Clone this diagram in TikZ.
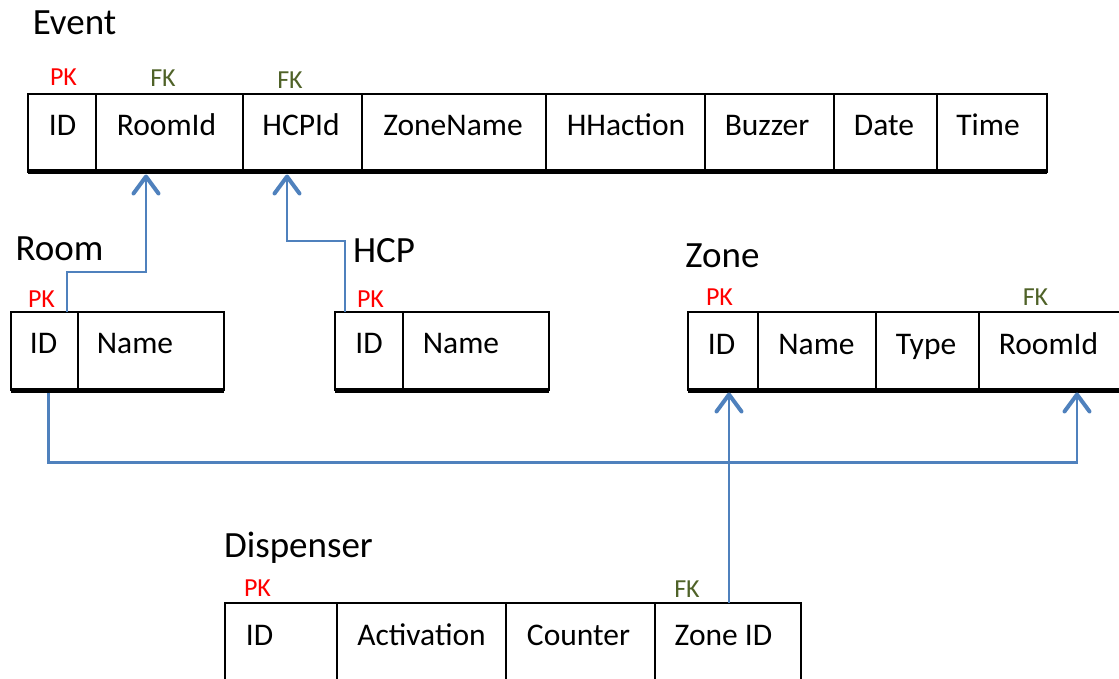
\documentclass[tikz,border=0pt]{standalone}
\usepackage{fontspec}
\setmainfont{Carlito}
\usetikzlibrary{arrows.meta}
\definecolor{linkblue}{RGB}{79,129,189}
\definecolor{pkred}{RGB}{255,0,0}
\definecolor{fkgreen}{RGB}{79,98,40}
\tikzset{
  cell/.style={draw=black, line width=2pt, rectangle, inner sep=0pt, outer sep=0pt, anchor=north west, minimum height=78pt},
  fld/.style={anchor=base, inner sep=0pt, font=\fontsize{31.5}{36}\selectfont},
  ttl/.style={anchor=base, inner sep=0pt, font=\fontsize{37}{42}\selectfont},
  pk/.style={anchor=base, inner sep=0pt, text=pkred, font=\fontsize{26}{30}\selectfont},
  fk/.style={anchor=base, inner sep=0pt, text=fkgreen, font=\fontsize{26}{30}\selectfont},
  thickbottom/.style={line width=5pt, line cap=butt},
  link/.style={draw=linkblue, line width=2.8pt, -{Straight Barb[length=17pt, width=25pt, line width=4pt, round]}}
}
\begin{document}
\begin{tikzpicture}[x=1pt, y=-1pt]
\useasboundingbox (0,0) rectangle (1119,679);

% ---------- Event ----------
\node[ttl] (tEvent) at (74.5,35) {Event};
\node[cell, minimum width=68pt]  (e1) at (28,94) {};
\node[cell, minimum width=147pt] (e2) at (e1.north east) {};
\node[cell, minimum width=119pt] (e3) at (e2.north east) {};
\node[cell, minimum width=184pt] (e4) at (e3.north east) {};
\node[cell, minimum width=159pt] (e5) at (e4.north east) {};
\node[cell, minimum width=129pt] (e6) at (e5.north east) {};
\node[cell, minimum width=103pt] (e7) at (e6.north east) {};
\node[cell, minimum width=110pt] (e8) at (e7.north east) {};
\draw[thickbottom] (e1.south west) -- (e8.south east);
\node[fld] (te1) at (62.5,136) {ID};
\node[fld] (te2) at (166.5,136) {RoomId};
\node[fld] (te3) at (301,136) {HCPId};
\node[fld] (te4) at (453,136) {ZoneName};
\node[fld] (te5) at (626,136) {HHaction};
\node[fld] (te6) at (767,136) {Buzzer};
\node[fld] (te7) at (884,136) {Date};
\node[fld] (te8) at (988,136) {Time};
\node[pk] (ePK) at (63.5,86) {PK};
\node[fk] (eFK1) at (163,87) {FK};
\node[fk] (eFK2) at (290,89) {FK};

% ---------- Room ----------
\node[ttl] (tRoom) at (59.5,261) {Room};
\node[cell, minimum width=67pt]  (r1) at (11,312) {};
\node[cell, minimum width=146pt] (r2) at (r1.north east) {};
\draw[thickbottom] (r1.south west) -- (r2.south east);
\node[fld] (tr1) at (43.5,353) {ID};
\node[fld] (tr2) at (135,353) {Name};
\node[pk] (rPK) at (41.5,307) {PK};

% ---------- HCP ----------
\node[ttl] (tHCP) at (384,262) {HCP};
\node[cell, minimum width=68pt]  (h1) at (335,312) {};
\node[cell, minimum width=146pt] (h2) at (h1.north east) {};
\draw[thickbottom] (h1.south west) -- (h2.south east);
\node[fld] (th1) at (369,353) {ID};
\node[fld] (th2) at (461,353) {Name};
\node[pk] (hPK) at (370.5,307) {PK};

% ---------- Zone ----------
\node[ttl] (tZone) at (722.5,267) {Zone};
\node[cell, minimum width=70pt]  (z1) at (688,312) {};
\node[cell, minimum width=118pt] (z2) at (z1.north east) {};
\node[cell, minimum width=103pt] (z3) at (z2.north east) {};
\node[cell, minimum width=146pt] (z4) at (z3.north east) {};
\draw[thickbottom] (z1.south west) -- (z4.south east);
\node[fld] (tz1) at (721.5,354) {ID};
\node[fld] (tz2) at (816.5,354) {Name};
\node[fld] (tz3) at (926,354) {Type};
\node[fld] (tz4) at (1048.5,354) {RoomId};
\node[pk] (zPK) at (719.5,305) {PK};
\node[fk] (zFK) at (1035.5,305) {FK};

% ---------- Dispenser ----------
\node[ttl] (tDisp) at (298.5,557) {Dispenser};
\node[cell, minimum width=112pt, minimum height=100pt] (d1) at (225,603) {};
\node[cell, minimum width=169pt, minimum height=100pt] (d2) at (d1.north east) {};
\node[cell, minimum width=149pt, minimum height=100pt] (d3) at (d2.north east) {};
\node[cell, minimum width=146pt, minimum height=100pt] (d4) at (d3.north east) {};
\node[fld] (td1) at (259.5,645) {ID};
\node[fld] (td2) at (421.5,645) {Activation};
\node[fld] (td3) at (578.5,645) {Counter};
\node[fld] (td4) at (723.5,645) {Zone ID};
\node[pk] (dPK) at (257.5,596) {PK};
\node[fk] (dFK) at (687,597) {FK};

% ---------- Connectors ----------
\coordinate (rUp) at ([xshift=22.5pt]r1.north);
\coordinate (eRoomIn) at ([xshift=-23.5pt, yshift=-2.5pt]e2.south);
\draw[link] (rUp) -- ++(0,-40) -| (eRoomIn);

\coordinate (hUp) at ([xshift=-24pt]h1.north);
\coordinate (eHCPIn) at ([xshift=-15.5pt, yshift=-2.5pt]e3.south);
\draw[link] (hUp) -- ++(0,-71) -| (eHCPIn);

\coordinate (rDown) at ([xshift=4pt, yshift=-2.5pt]r1.south);
\coordinate (zRoomIn) at ([xshift=25pt, yshift=-2.5pt]z4.south);
\draw[link] (rDown) -- ++(0,70) -| (zRoomIn);

\coordinate (dUp) at ([xshift=1pt]d4.north);
\coordinate (zIDIn) at ([xshift=6pt, yshift=-2.5pt]z1.south);
\draw[link] (dUp) -- (dUp |- zIDIn);
\end{tikzpicture}
\end{document}
